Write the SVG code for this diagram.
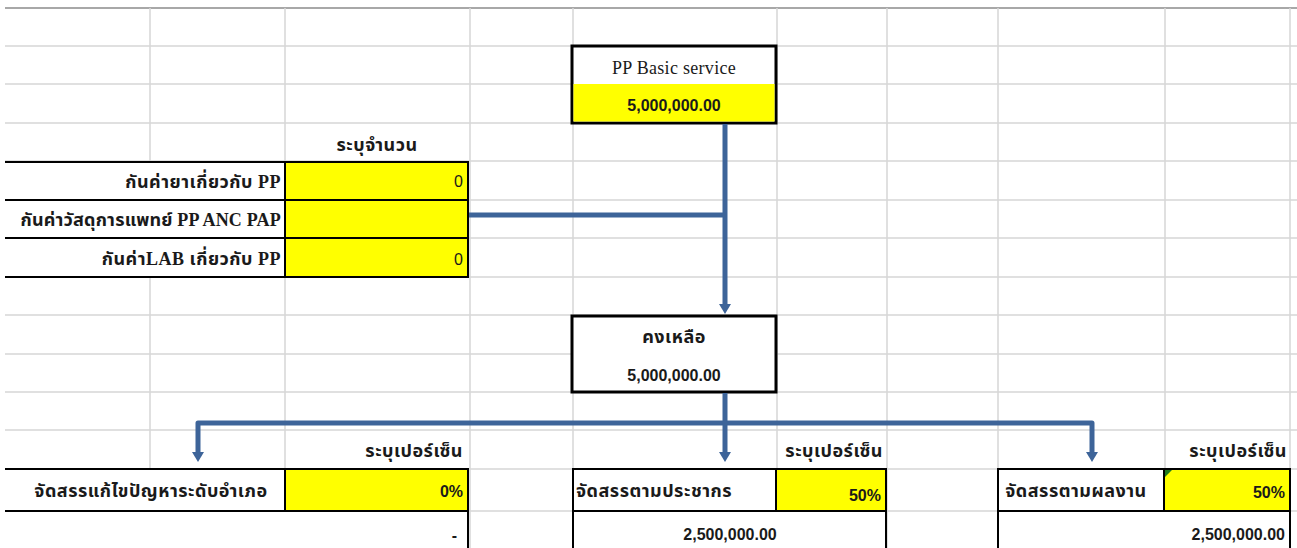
<svg xmlns="http://www.w3.org/2000/svg" width="1297" height="548" viewBox="0 0 1297 548">
<defs>
<style>
.grid{stroke:#d6d6d6;stroke-width:1.5;fill:none}
.ycell{fill:#ffff00;stroke:#000;stroke-width:2}
.box{fill:#ffffff;stroke:#000;stroke-width:3}
.th{font-family:"Liberation Serif","Noto Sans Thai","Noto Sans",serif;font-size:18px;letter-spacing:0.5px;font-weight:bold;fill:#1a1a1a}
.ser{font-family:"Liberation Serif",serif;font-size:18px;letter-spacing:0.3px;fill:#1a1a1a}
.num{font-family:"Liberation Sans",sans-serif;font-size:16px;font-weight:bold;fill:#1a1a1a}
.conn{stroke:#3d6499;stroke-width:5;fill:none;stroke-linejoin:round}
</style>
<marker id="arr" viewBox="0 0 10 12" refX="2" refY="6" markerWidth="10" markerHeight="12" orient="auto" markerUnits="userSpaceOnUse">
<path d="M0,0 L10,6 L0,12 Z" fill="#3d6499"/>
</marker>
</defs>
<rect x="0" y="0" width="1297" height="548" fill="#ffffff"/>
<g id="grid">
<line x1="5" y1="8" x2="1297" y2="8" stroke="#a8a8a8" stroke-width="2"/>
<path class="grid" d="M5,46H1297M5,84H1297M5,123H1297M5,161H1297M5,200H1297M5,238H1297M5,277H1297M5,315H1297M5,354H1297M5,392H1297M5,430H1297M5,469H1297M5,511H1297"/>
<path class="grid" d="M150,8V548M285,8V548M470,8V548M573,8V548M777,8V548M887,8V548M998,8V548M1165,8V548M1290,8V548"/>
</g>
<g id="pp-basic">
<rect class="box" x="572" y="46" width="204" height="77"/>
<rect x="573.5" y="84" width="201" height="37.5" fill="#ffff00"/>
<text class="ser" x="674" y="74" text-anchor="middle">PP Basic service</text>
<text class="num" x="674" y="111" text-anchor="middle">5,000,000.00</text>
</g>
<g id="reserve-table">
<text class="th" x="377" y="151" text-anchor="middle">ระบุจำนวน</text>
<rect x="5" y="162" width="280" height="115" fill="#ffffff"/>
<rect class="ycell" x="285" y="162" width="183" height="38"/>
<rect class="ycell" x="285" y="200" width="183" height="38"/>
<rect class="ycell" x="285" y="238" width="183" height="39"/>
<path d="M5,162H285M5,200H285M5,238H285M5,277H285" stroke="#000" stroke-width="2"/>
<text class="th" x="281" y="188" text-anchor="end">กันค่ายาเกี่ยวกับ PP</text>
<text class="th" x="281" y="226" text-anchor="end" style="letter-spacing:0.2px">กันค่าวัสดุการแพทย์ PP ANC PAP</text>
<text class="th" x="281" y="265" text-anchor="end">กันค่าLAB เกี่ยวกับ PP</text>
<text class="num" x="463" y="187" text-anchor="end" style="font-weight:normal">0</text>
<text class="num" x="463" y="265" text-anchor="end" style="font-weight:normal">0</text>
</g>
<g id="remaining">
<rect class="box" x="572" y="316" width="204" height="76"/>
<text class="th" x="674" y="343" text-anchor="middle">คงเหลือ</text>
<text class="num" x="674" y="381" text-anchor="middle">5,000,000.00</text>
</g>
<g id="alloc-district">
<text class="th" x="463" y="457" text-anchor="end">ระบุเปอร์เซ็น</text>
<rect x="5" y="469" width="280" height="79" fill="#ffffff"/>
<rect x="285" y="511" width="183" height="37" fill="#ffffff"/>
<path d="M5,469H285M5,511H285M468,511V548" stroke="#000" stroke-width="2"/>
<rect class="ycell" x="285" y="469" width="183" height="42"/>
<text class="th" x="151" y="497" text-anchor="middle">จัดสรรแก้ไขปัญหาระดับอำเภอ</text>
<text class="num" x="463" y="497" text-anchor="end">0%</text>
<text class="num" x="457" y="541" text-anchor="end">-</text>
</g>
<g id="alloc-population">
<text class="th" x="883" y="457" text-anchor="end">ระบุเปอร์เซ็น</text>
<path d="M573,548V469H886V548M573,511H886" fill="#ffffff" stroke="#000" stroke-width="2"/>
<rect class="ycell" x="776" y="469" width="110" height="42"/>
<text class="th" x="576" y="497">จัดสรรตามประชากร</text>
<text class="num" x="881" y="501" text-anchor="end">50%</text>
<text class="num" x="730" y="540" text-anchor="middle">2,500,000.00</text>
</g>
<g id="alloc-performance">
<text class="th" x="1287" y="457" text-anchor="end">ระบุเปอร์เซ็น</text>
<path d="M998,548V469H1290V548M998,511H1290" fill="#ffffff" stroke="#000" stroke-width="2"/>
<rect class="ycell" x="1164" y="469" width="126" height="42"/>
<path d="M1165,470H1172L1165,477Z" fill="#1f7a1f"/>
<text class="th" x="1076" y="497" text-anchor="middle">จัดสรรตามผลงาน</text>
<text class="num" x="1285" y="498" text-anchor="end">50%</text>
<text class="num" x="1285" y="540" text-anchor="end">2,500,000.00</text>
</g>
<g id="connectors">
<path class="conn" d="M725,124V306" marker-end="url(#arr)"/>
<path class="conn" d="M469,215H725"/>
<path class="conn" d="M725,393V423H198V454" marker-end="url(#arr)"/>
<path class="conn" d="M725,423V454" marker-end="url(#arr)"/>
<path class="conn" d="M725,423H1092V454" marker-end="url(#arr)"/>
</g>
</svg>
